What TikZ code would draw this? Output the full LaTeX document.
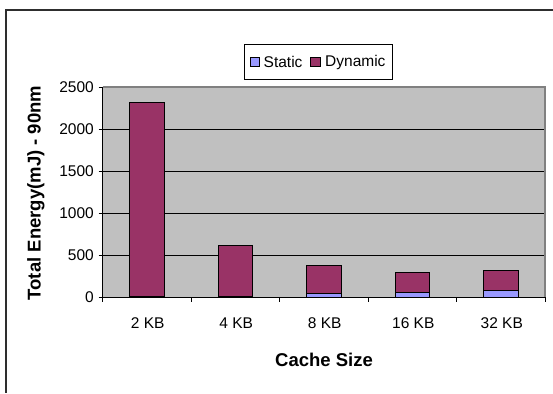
\documentclass[tikz,border=0pt]{standalone}
\usepackage{fontspec}
\setmainfont{Liberation Sans}
\definecolor{plotgray}{HTML}{C0C0C0}
\definecolor{dynfill}{HTML}{993366}
\definecolor{statfill}{HTML}{9999FF}
\definecolor{framecol}{HTML}{2E2E2E}
\begin{document}
\begin{tikzpicture}[x=1pt,y=-1pt,
  ticklabel/.style={font=\fontsize{15.5}{15.5}\selectfont, inner sep=0pt},
  axistitle/.style={font=\fontsize{18.5}{18.5}\selectfont\bfseries, inner sep=0pt},
  legendtext/.style={font=\fontsize{15.5}{15.5}\selectfont, inner sep=0pt, anchor=west},
  legendmark/.style={draw=black, line width=0.6pt, minimum size=9.3pt, inner sep=0pt},
  barbox/.style={draw=black, line width=0.8pt},
  grid line/.style={black, line width=0.9pt},
  axis line/.style={black, line width=0.9pt}]
\useasboundingbox (0,0) rectangle (553,393);

% outer chart frame (runs off the right and bottom edges)
\coordinate (frameTL) at (5.5,10.5);
\coordinate (frameTR) at (553,10.5);
\coordinate (frameBL) at (5.5,393);
\draw[framecol, line width=2pt] (frameTR) -- (frameTL) -- (frameBL);

% plot area: x from 102.5 to 545, y = 297 - 0.084*value
\coordinate (pBL) at (102.5,297);
\coordinate (pTR) at (545,87);
\coordinate (pTL) at (102.5,87);
\coordinate (pBR) at (545,297);
\fill[plotgray] (pBL) rectangle (pTR);
\foreach \v in {500,1000,1500,2000}
  \draw[grid line] (102.5,{297-0.084*\v}) -- (545,{297-0.084*\v});
\draw[gray, line width=1.3pt] (pTL) -- (pTR) -- (pBR);

% stacked bars: index / static / total
\foreach \i/\s/\t/\lab in {0/8/2313/2 KB, 1/10/611/4 KB, 2/44/375/8 KB, 3/56/294/16 KB, 4/83/321/32 KB}{
  \pgfmathsetmacro{\cx}{102.5+88.5*(\i+0.5)}
  \pgfmathsetmacro{\ys}{297-0.084*\s}
  \pgfmathsetmacro{\yt}{297-0.084*\t}
  \filldraw[barbox, fill=statfill] (\cx-17.3,297) rectangle (\cx+17.3,\ys);
  \filldraw[barbox, fill=dynfill] (\cx-17.3,\ys) rectangle (\cx+17.3,\yt);
  \node[ticklabel] (cat\i) at (\cx+1,323) {\lab};
}

% axes and tick marks
\draw[axis line] (pTL) -- (pBL) -- (pBR);
\foreach \v in {0,500,1000,1500,2000,2500}{
  \draw[axis line] (98.5,{297-0.084*\v}) -- (102.5,{297-0.084*\v});
  \node[ticklabel, anchor=east] (ytick\v) at (94,{297-0.084*\v}) {\v};
}
\foreach \k in {0,...,5}
  \draw[axis line] ({102.5+88.5*\k},297) -- ({102.5+88.5*\k},302);

% axis titles
\node[axistitle, rotate=90] (ytitle) at (36,193) {Total Energy(mJ) - 90nm};
\node[axistitle] (xtitle) at (324,360) {Cache Size};

% legend
\node[draw=black, line width=0.8pt, minimum width=148pt, minimum height=35.5pt, inner sep=0pt, fill=white] (legend) at (318.3,61.7) {};
\node[legendmark, fill=statfill] (mstatic) at (254.7,62) {};
\node[legendtext] (tstatic) at (263.5,62) {Static};
\node[legendmark, fill=dynfill] (mdynamic) at (315.3,62) {};
\node[legendtext] (tdynamic) at (325,62) {Dynamic};
\end{tikzpicture}
\end{document}
